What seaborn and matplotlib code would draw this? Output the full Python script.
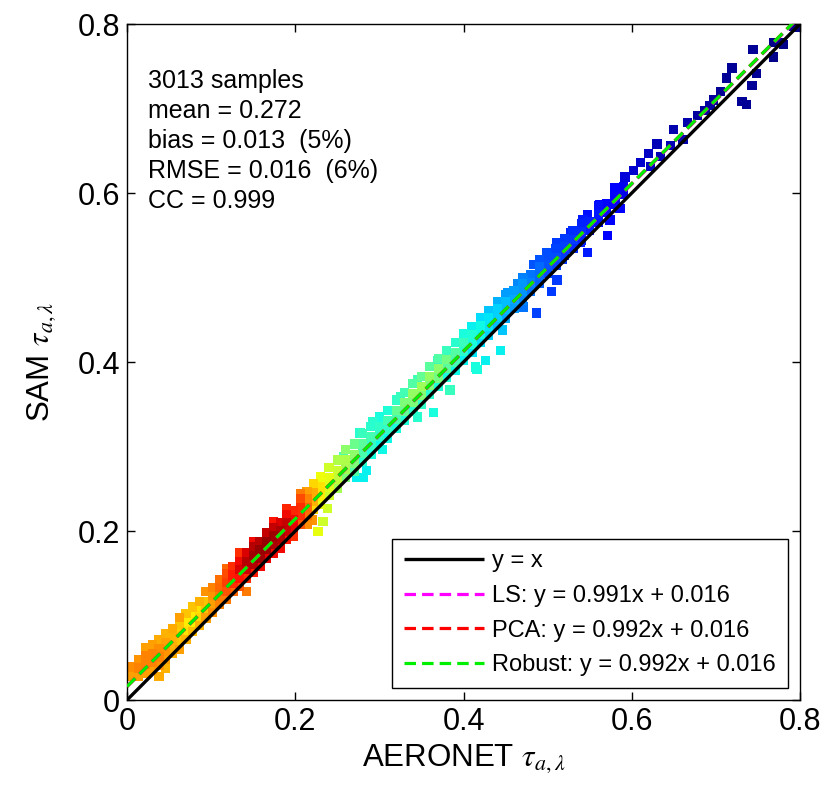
import numpy as np
import pandas as pd
import matplotlib
matplotlib.use("Agg")
import matplotlib.pyplot as plt
import seaborn as sns

# ---------------- data ----------------
# dense band, one column of squares per AERONET value
band_x = [0.006, 0.014, 0.022, 0.030, 0.038, 0.046, 0.054, 0.062, 0.070, 0.078,
          0.086, 0.094, 0.102, 0.110, 0.118, 0.126, 0.134, 0.142, 0.150, 0.158,
          0.166, 0.174, 0.182, 0.190, 0.198, 0.206, 0.214, 0.222, 0.230, 0.240,
          0.250, 0.260, 0.270, 0.280, 0.290, 0.300, 0.310, 0.320, 0.330, 0.340,
          0.350, 0.360, 0.370, 0.380, 0.390, 0.400, 0.410, 0.420, 0.430, 0.440,
          0.450, 0.460, 0.470, 0.480, 0.490, 0.500, 0.510, 0.520, 0.530, 0.540,
          0.550, 0.560, 0.570, 0.580, 0.590]
band_sam = [
    [0.028, 0.039],
    [0.028, 0.038, 0.048],
    [0.032, 0.042, 0.052, 0.062],
    [0.035, 0.045, 0.055, 0.066],
    [0.028, 0.041, 0.051, 0.061, 0.072],
    [0.038, 0.048, 0.058, 0.068, 0.078],
    [0.055, 0.065, 0.075, 0.085],
    [0.060, 0.070, 0.080, 0.090, 0.098],
    [0.072, 0.082, 0.092, 0.102],
    [0.081, 0.091, 0.101, 0.110],
    [0.088, 0.098, 0.108, 0.117],
    [0.097, 0.107, 0.117, 0.128],
    [0.104, 0.114, 0.124, 0.133],
    [0.113, 0.123, 0.133, 0.143],
    [0.119, 0.129, 0.139, 0.149, 0.156],
    [0.128, 0.138, 0.148, 0.158],
    [0.134, 0.144, 0.154, 0.164, 0.174],
    [0.128, 0.144, 0.154, 0.164, 0.174],
    [0.151, 0.161, 0.171, 0.181, 0.188],
    [0.158, 0.168, 0.178, 0.188],
    [0.168, 0.178, 0.188, 0.198],
    [0.174, 0.184, 0.194, 0.204, 0.211],
    [0.180, 0.190, 0.200, 0.210],
    [0.190, 0.200, 0.210, 0.220, 0.226],
    [0.194, 0.204, 0.214, 0.224],
    [0.208, 0.218, 0.228, 0.238, 0.244],
    [0.208, 0.218, 0.228, 0.238, 0.247],
    [0.225, 0.235, 0.246, 0.256],
    [0.231, 0.241, 0.252, 0.264],
    [0.242, 0.252, 0.263, 0.275],
    [0.251, 0.261, 0.272, 0.284],
    [0.263, 0.273, 0.284, 0.296],
    [0.270, 0.280, 0.291, 0.303],
    [0.282, 0.292, 0.303, 0.315],
    [0.291, 0.301, 0.312, 0.324],
    [0.302, 0.312, 0.323, 0.335],
    [0.310, 0.320, 0.331, 0.343],
    [0.322, 0.332, 0.343, 0.355],
    [0.331, 0.341, 0.352, 0.364],
    [0.342, 0.352, 0.363, 0.375],
    [0.350, 0.360, 0.371, 0.383],
    [0.362, 0.372, 0.383, 0.395],
    [0.371, 0.381, 0.392, 0.404],
    [0.382, 0.392, 0.403, 0.413],
    [0.390, 0.400, 0.411, 0.423],
    [0.402, 0.412, 0.423, 0.434],
    [0.411, 0.421, 0.432, 0.442],
    [0.423, 0.433, 0.443, 0.452],
    [0.432, 0.442, 0.452, 0.461],
    [0.443, 0.453, 0.463, 0.471],
    [0.452, 0.462, 0.472, 0.480],
    [0.464, 0.474, 0.484],
    [0.473, 0.483, 0.493, 0.500],
    [0.484, 0.494, 0.504],
    [0.493, 0.503, 0.513, 0.521],
    [0.505, 0.515, 0.525],
    [0.514, 0.524, 0.534],
    [0.526, 0.536, 0.546],
    [0.535, 0.545, 0.555],
    [0.544, 0.554, 0.564],
    [0.556, 0.566],
    [0.565, 0.575, 0.585],
    [0.577, 0.587],
    [0.586, 0.596, 0.606],
    [0.598, 0.608],
]
band_density = [
    [0.74, 0.76],
    [0.74, 0.77, 0.75],
    [0.74, 0.77, 0.77, 0.74],
    [0.74, 0.77, 0.77, 0.74],
    [0.73, 0.75, 0.77, 0.76, 0.73],
    [0.72, 0.74, 0.75, 0.74, 0.72],
    [0.73, 0.72, 0.72, 0.73],
    [0.74, 0.70, 0.69, 0.70, 0.74],
    [0.72, 0.67, 0.66, 0.70],
    [0.71, 0.66, 0.66, 0.70],
    [0.72, 0.68, 0.67, 0.72],
    [0.74, 0.70, 0.70, 0.75],
    [0.76, 0.74, 0.75, 0.77],
    [0.77, 0.78, 0.80, 0.79],
    [0.78, 0.82, 0.84, 0.83, 0.80],
    [0.80, 0.86, 0.88, 0.86],
    [0.82, 0.89, 0.92, 0.90, 0.86],
    [0.78, 0.86, 0.93, 0.95, 0.92],
    [0.88, 0.95, 0.97, 0.95, 0.90],
    [0.90, 0.97, 0.98, 0.95],
    [0.91, 0.97, 0.98, 0.94],
    [0.90, 0.96, 0.97, 0.94, 0.89],
    [0.90, 0.95, 0.96, 0.92],
    [0.89, 0.93, 0.94, 0.90, 0.87],
    [0.86, 0.91, 0.90, 0.87],
    [0.82, 0.86, 0.86, 0.83, 0.78],
    [0.76, 0.79, 0.80, 0.77, 0.74],
    [0.68, 0.72, 0.73, 0.68],
    [0.63, 0.66, 0.67, 0.64],
    [0.60, 0.62, 0.63, 0.60],
    [0.55, 0.58, 0.59, 0.56],
    [0.50, 0.55, 0.56, 0.52],
    [0.45, 0.50, 0.52, 0.48],
    [0.40, 0.44, 0.46, 0.42],
    [0.38, 0.41, 0.43, 0.40],
    [0.37, 0.40, 0.41, 0.38],
    [0.37, 0.41, 0.43, 0.39],
    [0.38, 0.44, 0.47, 0.41],
    [0.39, 0.47, 0.50, 0.43],
    [0.40, 0.50, 0.53, 0.45],
    [0.41, 0.51, 0.54, 0.47],
    [0.40, 0.50, 0.53, 0.46],
    [0.39, 0.49, 0.52, 0.45],
    [0.38, 0.46, 0.49, 0.42],
    [0.37, 0.43, 0.45, 0.40],
    [0.36, 0.40, 0.42, 0.38],
    [0.35, 0.38, 0.39, 0.36],
    [0.34, 0.37, 0.37, 0.34],
    [0.33, 0.35, 0.35, 0.32],
    [0.31, 0.33, 0.33, 0.30],
    [0.29, 0.31, 0.31, 0.28],
    [0.28, 0.29, 0.28],
    [0.26, 0.27, 0.27, 0.25],
    [0.24, 0.25, 0.24],
    [0.22, 0.23, 0.23, 0.21],
    [0.20, 0.21, 0.20],
    [0.19, 0.20, 0.19],
    [0.18, 0.19, 0.18],
    [0.17, 0.18, 0.17],
    [0.16, 0.17, 0.16],
    [0.15, 0.16],
    [0.14, 0.15, 0.14],
    [0.13, 0.13],
    [0.11, 0.12, 0.11],
    [0.09, 0.10],
]

# isolated squares away from the dense band
extra_x = [0.220, 0.227, 0.233, 0.238, 0.257, 0.273, 0.277, 0.281, 0.285, 0.292,
           0.304, 0.325, 0.345, 0.345, 0.364, 0.369, 0.384, 0.414, 0.416, 0.423,
           0.426, 0.432, 0.444, 0.444, 0.446, 0.452, 0.464, 0.471, 0.471, 0.483,
           0.487, 0.499, 0.505, 0.511, 0.511, 0.518, 0.527, 0.539, 0.542, 0.547,
           0.547, 0.562, 0.571, 0.574, 0.586,
           0.592, 0.590, 0.602, 0.610, 0.620, 0.622, 0.630, 0.634, 0.646, 0.650,
           0.661, 0.666, 0.678, 0.687, 0.693, 0.697, 0.705, 0.713, 0.719, 0.731,
           0.736, 0.743, 0.744, 0.748, 0.768, 0.768, 0.779, 0.780, 0.792, 0.797]
extra_sam = [0.213, 0.199, 0.211, 0.227, 0.288, 0.263, 0.316, 0.263, 0.272, 0.329,
             0.296, 0.359, 0.335, 0.379, 0.340, 0.402, 0.367, 0.394, 0.391, 0.441,
             0.402, 0.458, 0.470, 0.414, 0.438, 0.482, 0.493, 0.497, 0.465, 0.515,
             0.458, 0.529, 0.483, 0.541, 0.497, 0.521, 0.553, 0.541, 0.568, 0.574,
             0.530, 0.586, 0.550, 0.568, 0.582,
             0.619, 0.607, 0.627, 0.636, 0.647, 0.631, 0.658, 0.643, 0.656, 0.675,
             0.663, 0.683, 0.692, 0.698, 0.704, 0.710, 0.720, 0.736, 0.748, 0.708,
             0.705, 0.727, 0.770, 0.741, 0.761, 0.778, 0.778, 0.776, 0.797, 0.796]
extra_density = [0.75, 0.63, 0.60, 0.60, 0.45, 0.36, 0.40, 0.36, 0.36, 0.40,
                 0.37, 0.42, 0.40, 0.43, 0.38, 0.42, 0.42, 0.38, 0.38, 0.34,
                 0.36, 0.30, 0.29, 0.36, 0.32, 0.27, 0.26, 0.25, 0.24, 0.21,
                 0.19, 0.20, 0.18, 0.18, 0.18, 0.18, 0.16, 0.15, 0.15, 0.14,
                 0.15, 0.13, 0.12, 0.12, 0.11,
                 0.08, 0.08, 0.07, 0.07, 0.06, 0.06, 0.05, 0.05, 0.05, 0.04,
                 0.04, 0.04, 0.03, 0.03, 0.03, 0.03, 0.02, 0.02, 0.02, 0.02,
                 0.02, 0.02, 0.02, 0.02, 0.01, 0.01, 0.01, 0.01, 0.01, 0.01]

# reference and fitted lines
line_labels = ["y = x", "LS: y = 0.991x + 0.016", "PCA: y = 0.992x + 0.016",
               "Robust: y = 0.992x + 0.016"]
line_slopes = [1.0, 0.991, 0.992, 0.992]
line_intercepts = [0.0, 0.016, 0.016, 0.016]
line_colors = ["black", "#ff00ff", "#ff0000", "#00ee00"]
line_range = [0.0, 0.8]

stats_lines = ["3013 samples", "mean = 0.272", "bias = 0.013  (5%)",
               "RMSE = 0.016  (6%)", "CC = 0.999"]
ticks = [0, 0.2, 0.4, 0.6, 0.8]
tick_labels = ["0", "0.2", "0.4", "0.6", "0.8"]

# ---------------- build table ----------------
xs, ys, ds = [], [], []
for x0, col_y, col_d in zip(band_x, band_sam, band_density):
    for yv, dv in zip(col_y, col_d):
        xs.append(x0)
        ys.append(yv)
        ds.append(dv)
xs += extra_x
ys += extra_sam
ds += extra_density
df = pd.DataFrame({"AERONET": xs, "SAM": ys, "density": ds})
df = df.sort_values("density", kind="stable")

# ---------------- plot ----------------
sns.set_style("ticks")
plt.rcParams["font.family"] = ["Liberation Sans", "DejaVu Sans"]
plt.rcParams["mathtext.fontset"] = "stix"
plt.rcParams["text.color"] = "black"
plt.rcParams["axes.labelcolor"] = "black"
plt.rcParams["xtick.color"] = "black"
plt.rcParams["ytick.color"] = "black"

fig = plt.figure(figsize=(8.27, 7.98), dpi=100)
ax = fig.add_axes([0.1536, 0.1228, 0.8138, 0.8471])

jet = matplotlib.colormaps["jet"]
sns.scatterplot(data=df, x="AERONET", y="SAM", hue="density", palette=jet,
                hue_norm=(0, 1), marker="s", s=44, linewidth=0, edgecolor="none",
                legend=False, ax=ax, zorder=2)

handles = []
for lab, sl, ic, colr in zip(line_labels, line_slopes, line_intercepts, line_colors):
    xx = np.array(line_range)
    yy = sl * xx + ic
    if lab == "y = x":
        h, = ax.plot(xx, yy, color=colr, lw=2.4, solid_capstyle="butt", zorder=3,
                     label=lab)
    else:
        h, = ax.plot(xx, yy, color=colr, lw=2.3, dashes=(3.6, 1.9), zorder=4,
                     label=lab)
    handles.append(h)

ax.set_xlim(0, 0.8)
ax.set_ylim(0, 0.8)
ax.set_xticks(ticks)
ax.set_xticklabels(tick_labels)
ax.set_yticks(ticks)
ax.set_yticklabels(tick_labels)
ax.tick_params(direction="in", length=5.5, width=1, top=True, right=True,
               labelsize=22, pad=5, colors="black", labelcolor="black")
for sp in ax.spines.values():
    sp.set_visible(True)
    sp.set_color("black")
    sp.set_linewidth(1.0)

ax.set_xlabel(r"AERONET $\tau_{a,\lambda}$", fontsize=22.5, labelpad=4,
              color="black")
ax.set_ylabel(r"SAM $\tau_{a,\lambda}$", fontsize=22.5, labelpad=14,
              color="black")

ybase = [0.905, 0.861, 0.817, 0.772, 0.728]
for txt, yb in zip(stats_lines, ybase):
    ax.text(0.031, yb, txt, transform=ax.transAxes, fontsize=18,
            va="baseline", ha="left", color="black")

leg = ax.legend(handles=handles, loc="lower right", bbox_to_anchor=(0.982, 0.018),
                borderaxespad=0, frameon=True, fancybox=False, framealpha=1,
                edgecolor="black", fontsize=17, handlelength=3.4,
                handletextpad=0.35, labelspacing=0.53, borderpad=0.5)
leg.get_frame().set_linewidth(1.0)
for t in leg.get_texts():
    t.set_color("black")

fig.savefig("out.png", dpi=100)
